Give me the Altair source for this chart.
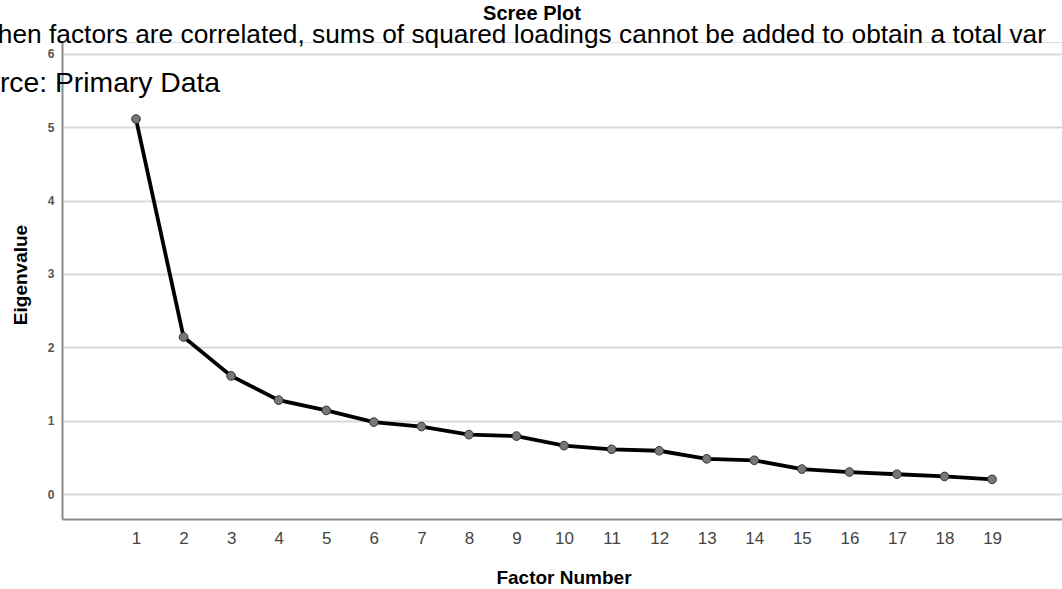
import altair as alt
import pandas as pd

# Scree plot of factor eigenvalues
factor_number = list(range(1, 20))
eigenvalue = [5.11, 2.14, 1.61, 1.28, 1.14, 0.98, 0.92, 0.81, 0.79, 0.66,
              0.61, 0.59, 0.48, 0.46, 0.34, 0.30, 0.27, 0.24, 0.20]
y_ticks = [0, 1, 2, 3, 4, 5, 6]

chart_title = "Scree Plot"
note_text = ("When factors are correlated, sums of squared loadings cannot be "
             "added to obtain a total variance.")
source_text = "Source: Primary Data"
x_title = "Factor Number"
y_title = "Eigenvalue"

df = pd.DataFrame({"factor": factor_number, "eigen": eigenvalue})

W, H = 1000, 477
FONT = "Liberation Sans"

x_enc = alt.X(
    "factor:Q",
    scale=alt.Scale(domain=[-0.556, 20.47], nice=False, zero=False),
    axis=alt.Axis(values=factor_number, grid=False, ticks=False, title=None,
                  format="d", labelFontSize=17, labelColor="#444444", labelPadding=11,
                  labelFont=FONT, domainColor="#8a8a8a", domainWidth=2),
)
y_enc = alt.Y(
    "eigen:Q",
    scale=alt.Scale(domain=[-0.34, 6.16], nice=False, zero=False),
    axis=alt.Axis(values=y_ticks, grid=True, gridColor="#d9d9d9", gridWidth=2,
                  ticks=False, title=None, format="d", labelFlush=False,
                  labelFontSize=12, labelFontWeight="bold",
                  labelColor="#555555", labelPadding=8, labelFont=FONT,
                  domainColor="#8a8a8a", domainWidth=2),
)

line = alt.Chart(df).mark_line(color="black", strokeWidth=3.8).encode(x=x_enc, y=y_enc)
points = alt.Chart(df).mark_point(
    filled=True, size=75, fill="#777777", stroke="#333333", strokeWidth=1, opacity=1
).encode(x="factor:Q", y="eigen:Q")

def label(text, x, y, size, weight="normal", align="center", angle=0, **kw):
    return alt.Chart(pd.DataFrame({"t": [text]})).mark_text(
        font=FONT, fontSize=size, fontWeight=weight, align=align,
        baseline="alphabetic", angle=angle, color="black", **kw
    ).encode(x=alt.value(x), y=alt.value(y), text="t:N")

title_mark = label(chart_title, 470, -22, 20, weight="bold")
note_mark = label(note_text, -89, 1, 26.3, align="left", limit=1074, ellipsis="\u200b")
source_mark = label(source_text, -112.4, 50, 28.3, align="left")
x_title_mark = label(x_title, 502, 542, 19, weight="bold")
y_title_mark = label(y_title, -35, 233, 19, weight="bold", angle=270)

chart = alt.layer(
    line, points, title_mark, note_mark, source_mark, x_title_mark, y_title_mark
).properties(
    width=W, height=H,
    autosize=alt.AutoSizeParams(type="none"),
    padding={"left": 62, "top": 42, "right": 0, "bottom": 70},
).configure_view(stroke=None).configure(background="white")

chart.save("out.html", embed_options={"renderer": "svg", "actions": False})
